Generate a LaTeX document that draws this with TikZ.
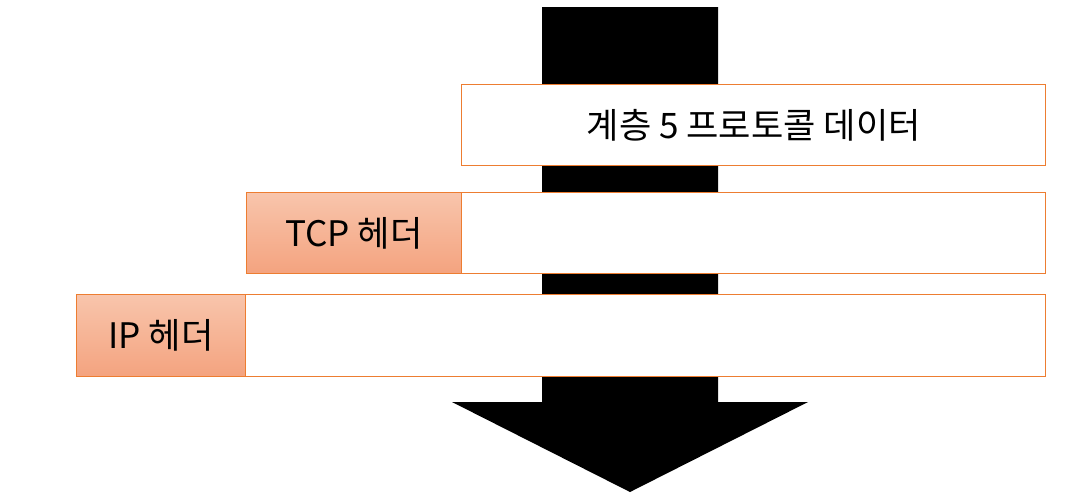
\documentclass[tikz,border=0pt]{standalone}
\usepackage{fontspec}
\setmainfont{Noto Sans CJK KR}
\usetikzlibrary{positioning}
\definecolor{boxline}{RGB}{237,125,49}
\definecolor{hdtop}{RGB}{248,197,172}
\definecolor{hdbot}{RGB}{244,163,127}
\tikzset{
  databox/.style={draw=boxline, fill=white, line width=0.8pt, inner sep=0pt, anchor=north west},
  hdrbox/.style={draw=boxline, top color=hdtop, bottom color=hdbot, line width=0.5pt, inner sep=0pt, anchor=north west},
  lbl/.style={font=\fontsize{20}{24}\selectfont}
}
\begin{document}
\begin{tikzpicture}[x=0.02cm, y=-0.02cm]
\useasboundingbox (0,0) rectangle (1091,501);

% big arrow
\fill[black] (542,7) -- (718,7) -- (718,402) -- (808,402) -- (630,492) -- (452,402) -- (542,402) -- cycle;

% layer 5 data
\node[databox, minimum width=584*0.02cm, minimum height=81*0.02cm] (data5) at (461,84) {};
\node[lbl] (data5t) at (data5.center) {계층 5 프로토콜 데이터};

% TCP
\node[hdrbox, minimum width=215*0.02cm, minimum height=81*0.02cm] (tcphdr) at (246,192) {};
\node[lbl] (tcpt) at (tcphdr.center) {TCP 헤더};
\node[databox, minimum width=584*0.02cm, minimum height=81*0.02cm] (tcpdata) at (461,192) {};

% IP
\node[hdrbox, minimum width=169*0.02cm, minimum height=82*0.02cm] (iphdr) at (76,294) {};
\node[lbl] (ipt) at (iphdr.center) {IP 헤더};
\node[databox, minimum width=800*0.02cm, minimum height=82*0.02cm] (ipdata) at (245,294) {};
\end{tikzpicture}
\end{document}
